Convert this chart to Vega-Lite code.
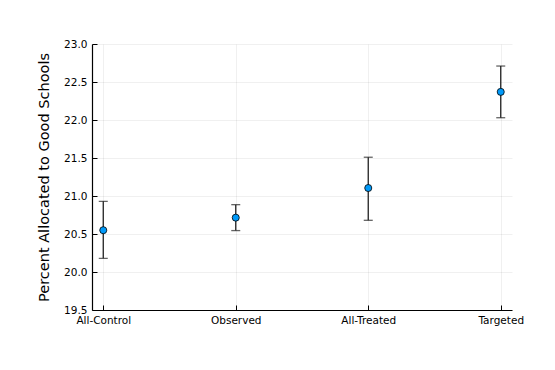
{
  "$schema": "https://vega.github.io/schema/vega-lite/v6.json",
  "autosize": "none",
  "width": 420,
  "height": 266,
  "padding": {"left": 92, "top": 44, "right": 43, "bottom": 60},
  "background": "white",
  "config": {
    "view": {"stroke": null},
    "font": "DejaVu Sans",
    "axis": {
      "labelFont": "DejaVu Sans",
      "titleFont": "DejaVu Sans",
      "labelColor": "#000000",
      "titleColor": "#000000",
      "domainColor": "#000000",
      "domainWidth": 1.2,
      "tickColor": "#000000",
      "gridColor": "#000000",
      "gridOpacity": 0.1,
      "gridWidth": 0.6,
      "labelOverlap": false,
      "labelFlush": false
    }
  },
  "data": {
    "values": [
      {"group": "All-Control", "mean": 20.55, "lo": 20.18, "hi": 20.93},
      {"group": "Observed", "mean": 20.715, "lo": 20.545, "hi": 20.886},
      {"group": "All-Treated", "mean": 21.105, "lo": 20.68, "hi": 21.51},
      {"group": "Targeted", "mean": 22.37, "lo": 22.03, "hi": 22.71}
    ]
  },
  "encoding": {
    "x": {
      "field": "group",
      "type": "nominal",
      "sort": null,
      "scale": {"type": "point", "padding": 0.085},
      "axis": {
        "title": null,
        "labelAngle": 0,
        "labelFontSize": 10.5,
        "labelPadding": 10,
        "tickSize": -5,
        "grid": true
      }
    }
  },
  "layer": [
    {
      "mark": {"type": "rule", "color": "#222222", "strokeWidth": 1.3},
      "encoding": {
        "y": {
          "field": "lo",
          "type": "quantitative",
          "scale": {"domain": [19.5, 23.0], "nice": false, "zero": false},
          "axis": {
            "title": "Percent Allocated to Good Schools",
            "titleFontSize": 14.5,
            "titleFontWeight": "normal",
            "titlePadding": 12,
            "labelFontSize": 10.5,
            "labelPadding": 10,
            "tickSize": -5,
            "tickCount": 8,
            "values": [19.5, 20.0, 20.5, 21.0, 21.5, 22.0, 22.5, 23.0],
            "format": ".1f",
            "grid": true
          }
        },
        "y2": {"field": "hi"}
      }
    },
    {
      "mark": {"type": "tick", "color": "#222222", "size": 9, "thickness": 1.3},
      "encoding": {"y": {"field": "lo", "type": "quantitative"}}
    },
    {
      "mark": {"type": "tick", "color": "#222222", "size": 9, "thickness": 1.3},
      "encoding": {"y": {"field": "hi", "type": "quantitative"}}
    },
    {
      "mark": {"type": "point", "filled": true, "fill": "#009AFA", "stroke": "#000000", "strokeWidth": 0.8, "opacity": 1, "size": 50},
      "encoding": {"y": {"field": "mean", "type": "quantitative"}}
    }
  ]
}
